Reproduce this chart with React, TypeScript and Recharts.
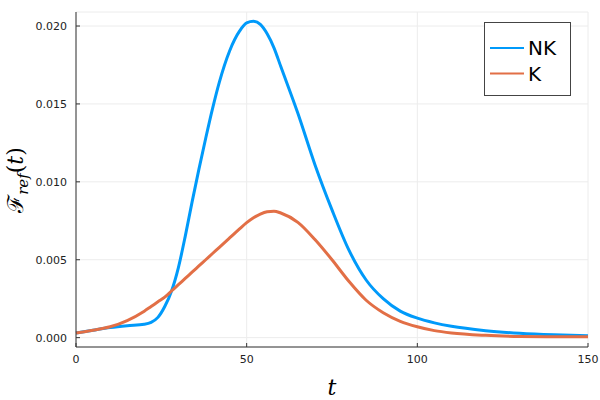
import { LineChart, Line, XAxis, YAxis, CartesianGrid } from "recharts";

const T = [0, 5, 10, 15, 20, 22, 24, 26, 28, 30, 32, 34, 36, 38, 40, 42, 45, 48, 50, 52, 54, 56, 58, 60, 65, 70, 75, 80, 85, 90, 95, 100, 105, 110, 120, 130, 140, 150];
const NK = [0.0003, 0.00048, 0.00065, 0.00077, 0.00086, 0.00098, 0.0013, 0.002, 0.003, 0.0045, 0.0065, 0.0087, 0.0108, 0.0128, 0.0147, 0.0164, 0.0184, 0.0197, 0.0202, 0.0203, 0.0201, 0.0195, 0.0186, 0.0174, 0.0144, 0.0111, 0.0082, 0.0056, 0.0037, 0.0025, 0.0017, 0.00125, 0.00095, 0.00073, 0.00045, 0.00028, 0.00018, 0.00012];
const K = [0.0003, 0.00048, 0.0007, 0.0011, 0.0017, 0.002, 0.0023, 0.0026, 0.003, 0.0034, 0.0038, 0.0042, 0.0046, 0.005, 0.0054, 0.0058, 0.0064, 0.007, 0.00738, 0.0077, 0.00793, 0.00808, 0.00812, 0.008, 0.0074, 0.0063, 0.005, 0.0036, 0.0024, 0.0016, 0.00105, 0.0007, 0.00045, 0.0003, 0.00015, 0.00008, 0.00006, 0.00005];
const X_TICKS = [0, 50, 100, 150];
const Y_TICKS = [0, 0.005, 0.01, 0.015, 0.02];
const SERIES = [
  { key: "nk", name: "NK", color: "#009AFA" },
  { key: "k", name: "K", color: "#E26F46" },
];

const data = T.map((t, i) => ({ t, nk: NK[i], k: K[i] }));

const tickStyle = { fill: "#222", fontSize: 11, fontFamily: "DejaVu Sans" };

const XLabel = (props: any) => {
  const vb = props.viewBox;
  return (
    <text x={vb.x + vb.width / 2} y={395} textAnchor="middle" fontFamily="DejaVu Serif" fontStyle="italic" fontSize={22} fill="#000">
      t
    </text>
  );
};

// rotated label, baseline sits at x=23
const YLabel = () => (
  <text transform="rotate(-90, 23, 180)" x={23} y={180} textAnchor="middle" fontFamily="DejaVu Serif" fontSize={22} fill="#000">
    <tspan>ℱ</tspan>
    <tspan fontStyle="italic" fontSize={15} dy={5}>ref</tspan>
    <tspan dy={-5}>(</tspan>
    <tspan fontStyle="italic">t</tspan>
    <tspan>)</tspan>
  </text>
);

export default function App() {
  return (
    <div style={{ position: "absolute", left: 0, top: 0, width: 600, height: 400, background: "#fff" }}>
      <LineChart width={600} height={400} data={data} margin={{ top: 12, right: 12, bottom: 0, left: 0 }}>
        <CartesianGrid stroke="#ececec" />
        <XAxis
          dataKey="t"
          type="number"
          domain={[0, 150]}
          ticks={X_TICKS}
          height={53}
          tickSize={-4}
          tickMargin={12}
          tick={tickStyle}
          axisLine={{ stroke: "#333" }}
          tickLine={{ stroke: "#333" }}
          label={<XLabel />}
        />
        <YAxis
          type="number"
          domain={[-0.0006, 0.0209]}
          ticks={Y_TICKS}
          width={76}
          allowDataOverflow
          tickFormatter={(v: number) => v.toFixed(3)}
          tickSize={-4}
          tickMargin={13}
          tick={tickStyle}
          axisLine={{ stroke: "#333" }}
          tickLine={{ stroke: "#333" }}
          label={<YLabel />}
        />
        {SERIES.map(s => (
          <Line key={s.key} dataKey={s.key} name={s.name} stroke={s.color} strokeWidth={3} dot={false} type="monotone" isAnimationActive={false} />
        ))}
      </LineChart>
      <svg width={600} height={400} style={{ position: "absolute", left: 0, top: 0, pointerEvents: "none" }}>
        <rect x={484.5} y={22.5} width={86} height={73} fill="#fff" stroke="#444" strokeWidth={1} />
        {SERIES.map((s, i) => (
          <g key={s.key}>
            <line x1={490} x2={524} y1={48 + i * 25.5} y2={48 + i * 25.5} stroke={s.color} strokeWidth={2} />
            <text x={528} y={55 + i * 25.5} fontFamily="DejaVu Sans" fontSize={20} fill="#000">{s.name}</text>
          </g>
        ))}
      </svg>
    </div>
  );
}
